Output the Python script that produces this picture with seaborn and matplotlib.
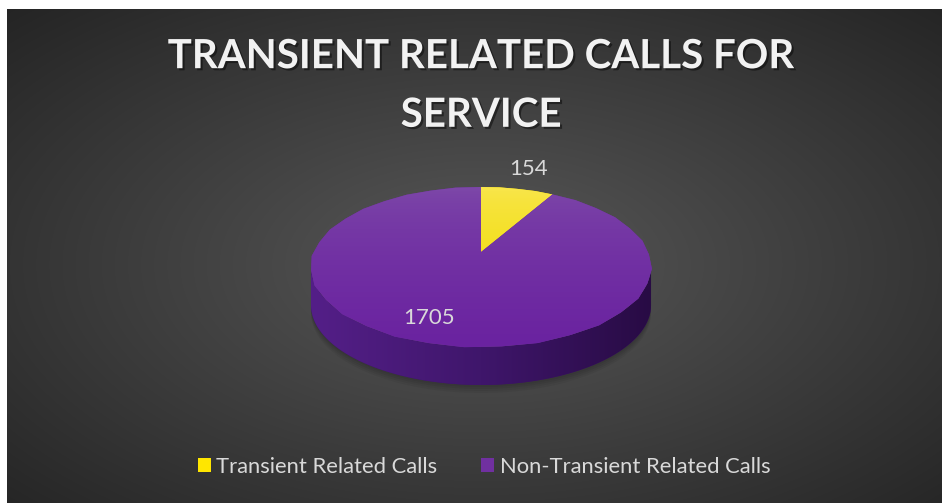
import numpy as np
import matplotlib
matplotlib.use("Agg")
import matplotlib.pyplot as plt
import seaborn as sns
from matplotlib.transforms import Transform
from matplotlib.path import Path
from matplotlib.patches import Polygon, Patch
from matplotlib.colors import to_rgb
import matplotlib.patheffects as pe

# ---------------- data ----------------
categories = ["Transient Related Calls", "Non-Transient Related Calls"]
values = [154, 1705]
slice_colors = ["#FFE600", "#7030A0"]
title_text = "TRANSIENT RELATED CALLS FOR\nSERVICE"

sns.set_theme(style="white")
plt.rcParams['font.family'] = ['Lato', 'DejaVu Sans']

W, H = 944, 503
DPI = 100
fig = plt.figure(figsize=(W / DPI, H / DPI), dpi=DPI)
fig.patch.set_facecolor("white")

# ---------------- background panel (radial gradient) ----------------
L, T, R, B = 7, 9, 941, 503
bg = fig.add_axes([L / W, 1 - B / H, (R - L) / W, (B - T) / H])
ny, nx = 300, 560
yy, xx = np.mgrid[0:ny, 0:nx]
px = L + (xx + 0.5) / nx * (R - L)
py = T + (yy + 0.5) / ny * (B - T)
cx, cy = 481, 265
d = np.sqrt(((px - cx) / (W / 2)) ** 2 + ((py - cy) / (H / 2)) ** 2) / np.sqrt(2)
g = np.clip(0.345 - 0.20 * d, 0, 1)
bg.imshow(np.dstack([g, g, g]), extent=[0, 1, 0, 1], aspect='auto',
          origin='upper', interpolation='bilinear')
bg.set_axis_off()


# ---------------- perspective transform for a tilted pie ----------------
class Persp(Transform):
    input_dims = 2
    output_dims = 2
    is_separable = False
    has_inverse = False

    def __init__(self, k, c):
        super().__init__()
        self.k = k
        self.c = c

    def transform_non_affine(self, values):
        xy = np.asarray(values, dtype=float).reshape(-1, 2)
        dd = 1 + self.k * xy[:, 1]
        return np.column_stack([xy[:, 0] / dd, self.c * xy[:, 1] / dd])

    def transform_path_non_affine(self, path):
        polys = path.to_polygons(closed_only=False)
        verts, codes = [], []
        for p in polys:
            tp = self.transform_non_affine(p)
            verts.append(tp)
            cc = np.full(len(tp), Path.LINETO, dtype=np.uint8)
            cc[0] = Path.MOVETO
            verts.append(tp[:1])
            codes.append(cc)
            codes.append(np.array([Path.CLOSEPOLY], dtype=np.uint8))
        if not verts:
            return path
        return Path(np.vstack(verts), np.concatenate(codes))


K, C = 0.1875, 0.462
S = 167.0              # pixels per unit
AX, AY = 481.0, 252.0  # pie centre (pixels from top-left)

ax = fig.add_axes([0, 0, 1, 1])
ax.patch.set_alpha(0)
wedges, _ = ax.pie(values, colors=slice_colors, startangle=90, counterclock=False,
                   radius=1.0, center=(0, 0), wedgeprops=dict(linewidth=0))
persp = Persp(K, C)
tr = persp + ax.transData
for w in wedges:
    w.set_transform(tr)
    w.set_zorder(3)

# side of the cylinder
rad = wedges[1].r
a = np.arcsin(K)
t = np.linspace(np.pi + a, 2 * np.pi - a, 300)
front = persp.transform_non_affine(np.column_stack([rad * np.cos(t), rad * np.sin(t)]))
D = 38 / S
side_xy = np.vstack([front, (front - np.array([0, D]))[::-1]])

# soft shadow beneath
for i in range(4):
    off = (i + 1) * 2.0 / S
    sh = Polygon(np.vstack([front - np.array([0, D + off]), (front - np.array([0, D - 0.05]))[::-1]]),
                 closed=True, facecolor='black', edgecolor='none', alpha=0.05, zorder=1.5)
    ax.add_patch(sh)

side = Polygon(side_xy, closed=True, facecolor="#3c1566", edgecolor='none', zorder=2)
ax.add_patch(side)
sx0, sx1 = side_xy[:, 0].min(), side_xy[:, 0].max()
sy0, sy1 = side_xy[:, 1].min(), side_xy[:, 1].max()
c_left, c_mid, c_right = (np.array(to_rgb("#541f88")), np.array(to_rgb("#3f166b")),
                          np.array(to_rgb("#280b44")))
u = np.linspace(0, 1, 400)
grad = np.where(u[:, None] < 0.5,
                c_left + (c_mid - c_left) * (u[:, None] / 0.5),
                c_mid + (c_right - c_mid) * ((u[:, None] - 0.5) / 0.5))
im = ax.imshow(grad[None, :, :], extent=[sx0, sx1, sy0, sy1], aspect='auto',
               origin='upper', zorder=2.1, interpolation='bilinear')
im.set_clip_path(side)

# top-face shading
ytop, ybot = C / (1 + K), -C / (1 - K)
top_cols = [("#f9e650", "#f0dc00"), ("#7e4aa9", "#6a22a0")]
for w, (ct, cb) in zip(wedges, top_cols):
    ct, cb = np.array(to_rgb(ct)), np.array(to_rgb(cb))
    v = np.linspace(0, 1, 300) ** 0.6
    gr = ct + (cb - ct) * v[:, None]
    im2 = ax.imshow(gr[:, None, :], extent=[-1.05, 1.05, ybot, ytop], aspect='auto',
                    origin='upper', zorder=3.1, interpolation='bilinear')
    im2.set_clip_path(w)

# data labels (outside for the small slice, inside for the large one)
label_r = [1.40, 0.785]
label_dang = [0.0, -5.0]
for w, v, r, da in zip(wedges, values, label_r, label_dang):
    mid = np.deg2rad((w.theta1 + w.theta2) / 2 + da)
    ax.text(r * np.cos(mid), r * np.sin(mid), f"{v}", transform=tr,
            ha='center', va='center', color='#d9d9d9', fontsize=16, zorder=5)

ax.set_aspect('auto')
ax.set_xlim(-AX / S, (W - AX) / S)
ax.set_ylim(-(H - AY) / S, AY / S)
ax.set_axis_off()

# title
fig.text(481 / W, 1 - 86 / H, title_text, ha='center', va='center',
         fontsize=29, fontweight='bold', color='#f2f2f2', linespacing=1.72,
         path_effects=[pe.SimplePatchShadow(offset=(1.5, -1.5), shadow_rgbFace='black', alpha=0.45),
                       pe.Normal()])

# legend
handles = [Patch(facecolor=c, edgecolor='none') for c in slice_colors]
fig.legend(handles, categories, loc='center', bbox_to_anchor=(484 / W, 1 - 467 / H),
           ncol=2, frameon=False, fontsize=15.8, handlelength=0.6, handleheight=0.6,
           handletextpad=0.25, columnspacing=2.0, labelcolor='#d9d9d9')

fig.savefig("out.png", dpi=DPI)
